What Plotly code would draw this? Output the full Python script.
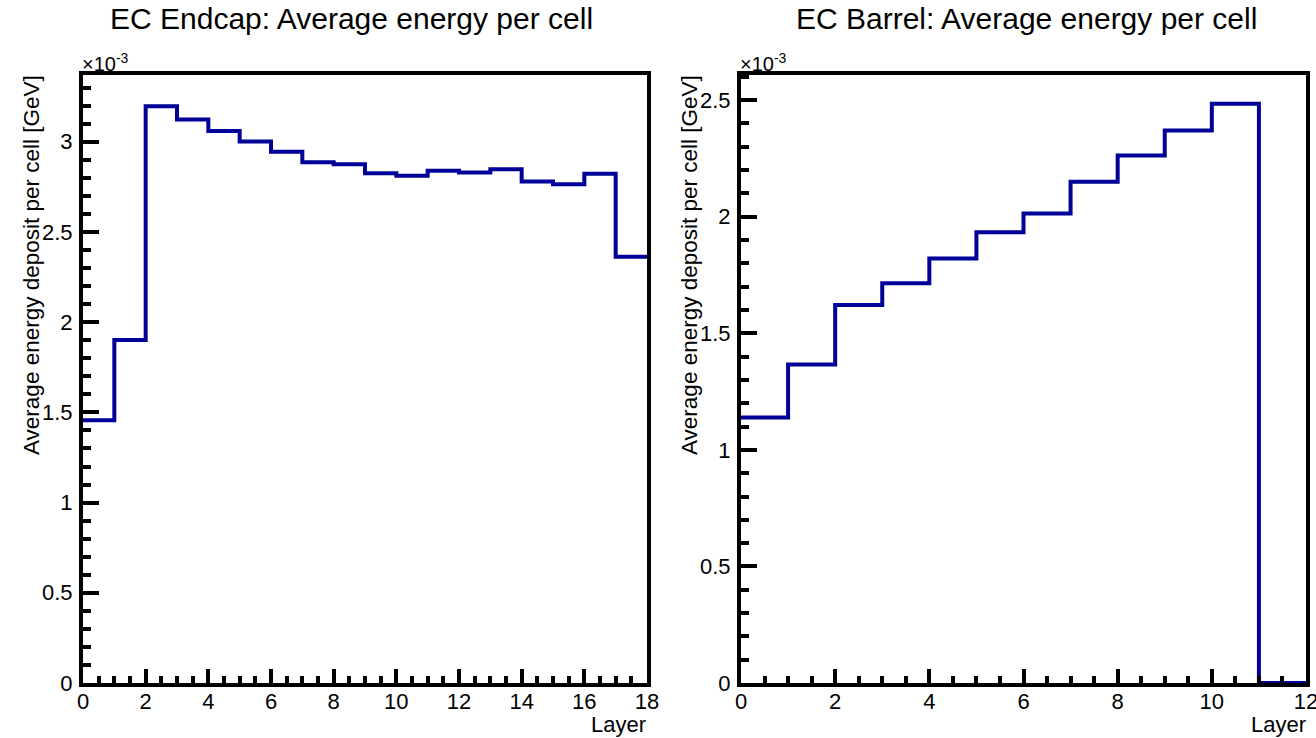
import plotly.graph_objects as go

# Per-layer average energy deposit per cell [GeV]
endcap_layers = list(range(19))  # bin edges 0..18
endcap_energy = [1.456e-3, 1.901e-3, 3.197e-3, 3.124e-3, 3.060e-3, 3.001e-3,
                 2.945e-3, 2.886e-3, 2.875e-3, 2.826e-3, 2.811e-3, 2.839e-3,
                 2.830e-3, 2.848e-3, 2.780e-3, 2.765e-3, 2.822e-3, 2.362e-3]

barrel_layers = list(range(13))  # bin edges 0..12
barrel_energy = [1.139e-3, 1.366e-3, 1.621e-3, 1.715e-3, 1.821e-3, 1.933e-3,
                 2.014e-3, 2.150e-3, 2.263e-3, 2.370e-3, 2.485e-3, 0.0]

endcap_yticks = [0, 0.5e-3, 1.0e-3, 1.5e-3, 2.0e-3, 2.5e-3, 3.0e-3]
endcap_yticktext = ["0", "0.5", "1", "1.5", "2", "2.5", "3"]
barrel_yticks = [0, 0.5e-3, 1.0e-3, 1.5e-3, 2.0e-3, 2.5e-3]
barrel_yticktext = ["0", "0.5", "1", "1.5", "2", "2.5"]

W, H = 1316, 738
FONT = "Liberation Sans, Arial, Helvetica, sans-serif"
LINE_COLOR = "#000099"


def px_x(p):
    return p / W


def px_y(p):
    return 1 - p / H


def step_xy(edges, values):
    xs = list(edges[:-1]) + [edges[-1]]
    ys = list(values) + [values[-1]]
    return xs, ys


fig = go.Figure()

ex, ey = step_xy(endcap_layers, endcap_energy)
bx, by = step_xy(barrel_layers, barrel_energy)

fig.add_trace(go.Scatter(x=ex, y=ey, mode="lines", line_shape="hv",
                         line=dict(color=LINE_COLOR, width=4),
                         xaxis="x", yaxis="y", showlegend=False,
                         hoverinfo="skip"))
fig.add_trace(go.Scatter(x=bx, y=by, mode="lines", line_shape="hv",
                         line=dict(color=LINE_COLOR, width=4),
                         xaxis="x2", yaxis="y2", showlegend=False,
                         hoverinfo="skip"))

y_dom = [px_y(683), px_y(75)]

common_axis = dict(
    showline=True, linecolor="black", linewidth=4, mirror=True,
    showgrid=False, zeroline=False, automargin=False,
    ticks="inside", tickcolor="black", tickwidth=4,
    tickfont=dict(family=FONT, size=22, color="black"),
    ticklabeloverflow="allow",
)

xaxis_common = dict(common_axis, ticklen=14, dtick=2, tick0=0,
                    ticklabelstandoff=-4,
                    minor=dict(ticks="inside", ticklen=7, tickwidth=4,
                               tickcolor="black", dtick=0.5, tick0=0))
yaxis_common = dict(common_axis, ticklen=16, ticklabelstandoff=2,
                    minor=dict(ticks="inside", ticklen=8, tickwidth=4,
                               tickcolor="black", dtick=1e-4, tick0=0))

fig.update_layout(
    width=W, height=H, autosize=False,
    margin=dict(l=0, r=0, t=0, b=0, autoexpand=False),
    paper_bgcolor="white", plot_bgcolor="white",
    xaxis=dict(xaxis_common, domain=[px_x(83), px_x(647)], range=[0, 18],
               anchor="y"),
    yaxis=dict(yaxis_common, domain=y_dom, range=[0, 3.37e-3],
               tickvals=endcap_yticks, ticktext=endcap_yticktext,
               anchor="x"),
    xaxis2=dict(xaxis_common, domain=[px_x(741), px_x(1306)], range=[0, 12],
                anchor="y2"),
    yaxis2=dict(yaxis_common, domain=y_dom, range=[0, 2.608e-3],
                tickvals=barrel_yticks, ticktext=barrel_yticktext,
                anchor="x2"),
)

ann = []
# Panel titles
ann.append(dict(text="EC Endcap: Average energy per cell", x=px_x(351), y=px_y(18),
                xanchor="center", yanchor="middle",
                font=dict(family=FONT, size=30, color="black")))
ann.append(dict(text="EC Barrel: Average energy per cell", x=px_x(1026), y=px_y(18),
                xanchor="center", yanchor="middle",
                font=dict(family=FONT, size=30, color="black")))
# Y-axis titles
for xc in (31, 689):
    ann.append(dict(text="Average energy deposit per cell [GeV]", textangle=-90,
                    x=px_x(xc), y=px_y(73), xanchor="center", yanchor="top",
                    font=dict(family=FONT, size=22.5, color="black")))
# X-axis titles
for xr in (648, 1308):
    ann.append(dict(text="Layer", x=px_x(xr), y=px_y(724),
                    xanchor="right", yanchor="middle",
                    font=dict(family=FONT, size=22, color="black")))
# Exponent labels
for xl in (80, 738):
    ann.append(dict(text="×10<sup>-3</sup>", x=px_x(xl), y=px_y(62),
                    xanchor="left", yanchor="middle",
                    font=dict(family=FONT, size=20, color="black")))

for a in ann:
    a.update(xref="paper", yref="paper", showarrow=False)
fig.update_layout(annotations=ann)

fig.write_html("out.html")
